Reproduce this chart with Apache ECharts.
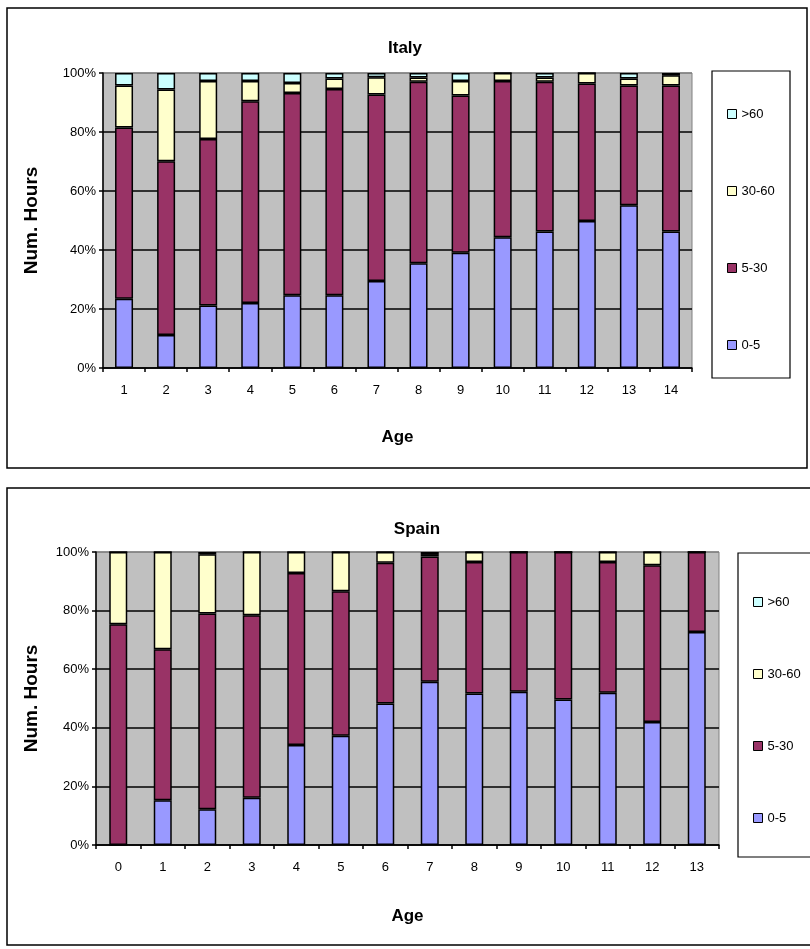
<!DOCTYPE html>
<html>
<head>
<meta charset="utf-8">
<script src="https://cdn.jsdelivr.net/npm/echarts@6/dist/echarts.min.js"></script>
<style>
html,body{margin:0;padding:0;background:#fff;}
#chart{width:810px;height:949px;}
</style>
</head>
<body>
<div id="chart"></div>
<script>
// ---- Data ----
const seriesNames = ['0-5', '5-30', '30-60', '>60'];
const seriesColors = ['#9999FF', '#993366', '#FFFFCC', '#CCFFFF'];
const yTicks = [0, 20, 40, 60, 80, 100];

const italyAges = ['1','2','3','4','5','6','7','8','9','10','11','12','13','14'];
const italy_0_5   = [23.5, 11.2, 21.2, 22.0, 24.7, 24.7, 29.5, 35.5, 39.1, 44.3, 46.3, 49.8, 55.2, 46.3];
const italy_5_30  = [58.0, 58.9, 56.4, 68.4, 68.5, 69.9, 63.2, 61.5, 53.3, 53.0, 50.7, 46.6, 40.6, 49.5];
const italy_30_60 = [14.3, 24.3, 19.7, 6.9, 3.4, 3.5, 5.9, 1.5, 4.9, 2.7, 1.5, 3.6, 2.3, 3.4];
const italy_60    = [4.2, 5.6, 2.7, 2.7, 3.4, 1.9, 1.4, 1.5, 2.7, 0, 1.5, 0, 1.9, 0.8];

const spainAges = ['0','1','2','3','4','5','6','7','8','9','10','11','12','13'];
const spain_0_5   = [0, 15.3, 12.2, 16.1, 34.1, 37.3, 48.3, 55.7, 51.7, 52.3, 49.7, 52.0, 42.0, 72.7];
const spain_5_30  = [75.3, 51.5, 66.8, 62.3, 58.7, 49.3, 48.0, 42.8, 44.9, 47.7, 50.3, 44.6, 53.5, 27.3];
const spain_30_60 = [24.7, 33.2, 20.2, 21.6, 7.2, 13.4, 3.7, 0.8, 3.4, 0, 0, 3.4, 4.5, 0];
const spain_60    = [0, 0, 0.8, 0, 0, 0, 0, 0.7, 0, 0, 0, 0, 0, 0];

// ---- Chart ----
const FONT = 'Liberation Sans, Arial, sans-serif';
const chart = echarts.init(document.getElementById('chart'));

function xAxisCfg(idx, cats, gap) {
  return {
    type: 'category', gridIndex: idx, data: cats, boundaryGap: true,
    name: 'Age', nameLocation: 'middle', nameGap: gap,
    nameTextStyle: {fontFamily: FONT, fontSize: 17, fontWeight: 'bold', color: '#000'},
    axisLine: {show: true, lineStyle: {color: '#000', width: 1.5}},
    axisTick: {show: true, interval: 0, alignWithLabel: false, length: 4, lineStyle: {color: '#000', width: 1.5}},
    axisLabel: {fontFamily: FONT, fontSize: 13, color: '#000', margin: 16, interval: 0},
    splitLine: {show: false}
  };
}
function yAxisCfg(idx, gap) {
  return {
    type: 'value', gridIndex: idx, min: yTicks[0], max: yTicks[yTicks.length - 1], interval: 20,
    name: 'Num. Hours', nameLocation: 'middle', nameGap: gap, nameRotate: 90,
    nameTextStyle: {fontFamily: FONT, fontSize: 19, fontWeight: 'bold', color: '#000'},
    axisLine: {show: true, lineStyle: {color: '#000', width: 1.5}},
    axisTick: {show: true, length: 4, lineStyle: {color: '#000', width: 1.5}},
    axisLabel: {fontFamily: FONT, fontSize: 13, color: '#000', margin: 7, formatter: '{value}%'},
    splitLine: {show: true, lineStyle: {color: ['#000','#000','#000','#000','#000','#808080'], width: 1.5}}
  };
}
function barSeries(gridIdx, stack, arrays, bw) {
  return arrays.map((arr, i) => ({
    name: seriesNames[i], type: 'bar', stack: stack,
    xAxisIndex: gridIdx, yAxisIndex: gridIdx,
    barWidth: bw, data: arr,
    itemStyle: {color: seriesColors[i], borderColor: '#000', borderWidth: 1.5},
    emphasis: {disabled: true}
  }));
}
const legendOrder = ['>60', '30-60', '5-30', '0-5'];
function legendCfg(left, top, gap) {
  return {
    orient: 'vertical', left: left, top: top, itemGap: gap,
    itemWidth: 9, itemHeight: 9, icon: 'rect',
    data: legendOrder,
    itemStyle: {borderColor: '#000', borderWidth: 1},
    textStyle: {fontFamily: FONT, fontSize: 13, color: '#000', lineHeight: 14},
    selectedMode: false
  };
}

chart.setOption({
  backgroundColor: '#fff',
  animation: false,
  title: [
    {text: 'Italy', left: 400, top: 35, textAlign: 'center',
     textStyle: {fontFamily: FONT, fontSize: 17, fontWeight: 'bold', color: '#000'}},
    {text: 'Spain', left: 412, top: 516, textAlign: 'center',
     textStyle: {fontFamily: FONT, fontSize: 17, fontWeight: 'bold', color: '#000'}}
  ],
  grid: [
    {left: 103, top: 73, width: 589, height: 295, show: true, backgroundColor: '#C0C0C0', borderColor: '#808080', borderWidth: 1},
    {left: 96, top: 552, width: 623, height: 293, show: true, backgroundColor: '#C0C0C0', borderColor: '#808080', borderWidth: 1}
  ],
  xAxis: [xAxisCfg(0, italyAges, 61), xAxisCfg(1, spainAges, 63)],
  yAxis: [yAxisCfg(0, 62), yAxisCfg(1, 55)],
  legend: [legendCfg(722, 102, 63), legendCfg(748, 590, 58)],
  graphic: [
    {type: 'rect', shape: {x: 7, y: 8, width: 800, height: 460}, style: {fill: 'none', stroke: '#000', lineWidth: 1.5}, silent: true},
    {type: 'rect', shape: {x: 7, y: 488, width: 830, height: 457}, style: {fill: 'none', stroke: '#000', lineWidth: 1.5}, silent: true},
    {type: 'rect', shape: {x: 712, y: 71, width: 78, height: 307}, style: {fill: 'none', stroke: '#000', lineWidth: 1.2}, silent: true},
    {type: 'rect', shape: {x: 738, y: 553, width: 90, height: 304}, style: {fill: 'none', stroke: '#000', lineWidth: 1.2}, silent: true}
  ],
  series: [].concat(
    barSeries(0, 'italy', [italy_0_5, italy_5_30, italy_30_60, italy_60], 18),
    barSeries(1, 'spain', [spain_0_5, spain_5_30, spain_30_60, spain_60], 18)
  )
});
</script>
</body>
</html>
